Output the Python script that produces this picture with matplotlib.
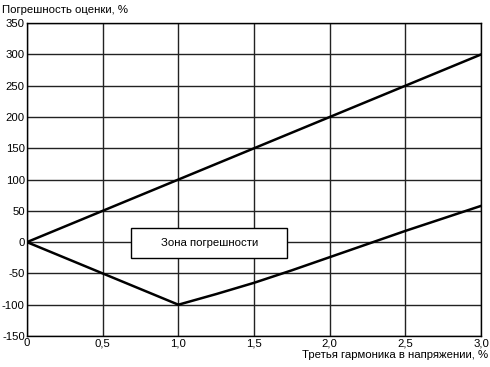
from matplotlib import pyplot as plt
from matplotlib.patches import Rectangle

# upper boundary of the error zone
UPPER_X = [0.0, 3.0]
UPPER_Y = [0, 300]

# lower boundary of the error zone
LOWER_X = [0.0, 1.0, 1.25, 1.5, 1.75, 2.0, 2.25, 2.5, 2.75, 3.0]
LOWER_Y = [0, -100, -83, -65, -45, -24, -3, 18, 38, 58]

XTICKS = [0.0, 0.5, 1.0, 1.5, 2.0, 2.5, 3.0]
XLABELS = ["0", "0,5", "1,0", "1,5", "2,0", "2,5", "3,0"]
YTICKS = [-150, -100, -50, 0, 50, 100, 150, 200, 250, 300, 350]

plt.rcParams["font.family"] = ["Liberation Sans", "DejaVu Sans"]
plt.rcParams["font.size"] = 8.2
plt.rcParams["axes.unicode_minus"] = False

fig = plt.figure(figsize=(4.9, 3.67), dpi=100)
ax = fig.add_axes([0.055, 0.0845, 0.927, 0.8525])

ax.set_xlim(0, 3.0)
ax.set_ylim(-150, 350)
ax.set_xticks(XTICKS)
ax.set_xticklabels(XLABELS)
ax.set_yticks(YTICKS)
ax.tick_params(length=0, pad=1.5)
ax.grid(True, color="#222222", linewidth=1.0)
ax.set_axisbelow(True)
for s in ax.spines.values():
    s.set_linewidth(1.0)

ax.plot(UPPER_X, UPPER_Y, color="black", linewidth=1.8)
ax.plot(LOWER_X, LOWER_Y, color="black", linewidth=1.8)

# label box
ax.add_patch(Rectangle((0.69, -25), 1.03, 48, facecolor="white",
                       edgecolor="black", linewidth=1.0, zorder=3))
ax.text(1.205, -1, "Зона погрешности", ha="center", va="center", zorder=4)

fig.text(0.004, 0.972, "Погрешность оценки, %", ha="left", va="center")
fig.text(0.996, 0.033, "Третья гармоника в напряжении, %", ha="right", va="center")

plt.savefig("out.png", dpi=100)
